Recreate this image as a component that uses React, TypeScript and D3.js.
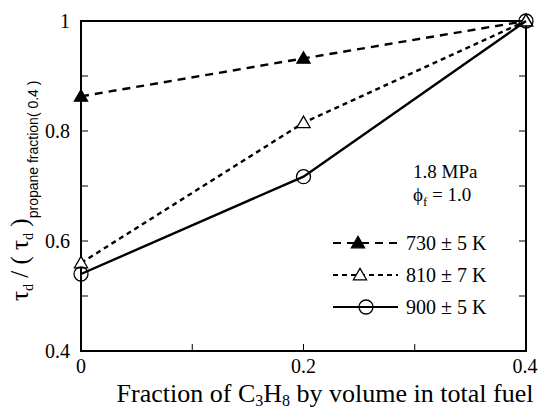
import React, { useEffect, useRef } from 'react'
import * as d3 from 'd3'

const fractions = [0, 0.2, 0.4]
const series730 = [0.863, 0.932, 1.0]
const series810 = [0.56, 0.815, 1.0]
const series900 = [0.54, 0.717, 1.0]
const seriesLabels = ['730 \u00b1 5 K', '810 \u00b1 7 K', '900 \u00b1 5 K']
const xTicks = [0, 0.2, 0.4]
const yTicks = [0.4, 0.6, 0.8, 1]

export default function App() {
  const svgRef = useRef<SVGSVGElement | null>(null)

  useEffect(() => {
    const svg = d3.select(svgRef.current)
    svg.selectAll('*').remove()

    const left = 81
    const right = 526
    const top = 21
    const bottom = 351
    const font = '"Liberation Serif", "Times New Roman", serif'

    const x = d3.scaleLinear().domain([0, 0.4]).range([left, right])
    const y = d3.scaleLinear().domain([0.4, 1]).range([bottom, top])

    const g = svg.append('g')

    // frame
    g.append('rect')
      .attr('x', left)
      .attr('y', top)
      .attr('width', right - left)
      .attr('height', bottom - top)
      .attr('fill', 'none')
      .attr('stroke', '#000')
      .attr('stroke-width', 2)

    // inward ticks
    const yMinor = d3.range(0.4, 1.0001, 0.1)
    yMinor.forEach((v) => {
      g.append('line')
        .attr('x1', left).attr('x2', left + 7)
        .attr('y1', y(v)).attr('y2', y(v))
        .attr('stroke', '#000').attr('stroke-width', 1)
      g.append('line')
        .attr('x1', right).attr('x2', right - 7)
        .attr('y1', y(v)).attr('y2', y(v))
        .attr('stroke', '#000').attr('stroke-width', 1)
    })
    const xMinor = d3.range(0, 0.40001, 0.1)
    xMinor.forEach((v) => {
      g.append('line')
        .attr('x1', x(v)).attr('x2', x(v))
        .attr('y1', bottom).attr('y2', bottom - 7)
        .attr('stroke', '#000').attr('stroke-width', 1)
    })

    // tick labels
    g.selectAll('.ylab')
      .data(yTicks)
      .enter()
      .append('text')
      .attr('x', left - 11)
      .attr('y', (d) => y(d) + 7)
      .attr('text-anchor', 'end')
      .attr('font-family', font)
      .attr('font-size', 20)
      .text((d) => (d === 1 ? '1' : d.toFixed(1)))

    g.selectAll('.xlab')
      .data(xTicks)
      .enter()
      .append('text')
      .attr('x', (d) => x(d) - (d === 0.4 ? 1 : 0))
      .attr('y', bottom + 22)
      .attr('text-anchor', 'middle')
      .attr('font-family', font)
      .attr('font-size', 20)
      .text((d) => (d === 0 ? '0' : d.toFixed(1)))

    // x title
    const xt = g.append('text')
      .attr('x', 325)
      .attr('y', 402)
      .attr('text-anchor', 'middle')
      .attr('font-family', font)
      .attr('font-size', 26)
    xt.append('tspan').text('Fraction of C')
    xt.append('tspan').attr('font-size', 16).attr('dy', 4).text('3')
    xt.append('tspan').attr('dy', -4).text('H')
    xt.append('tspan').attr('font-size', 16).attr('dy', 4).text('8')
    xt.append('tspan').attr('dy', -4).text(' by volume in total fuel')

    // y title
    const yt = g.append('text')
      .attr('transform', `translate(28,${301}) rotate(-90)`)
      .attr('font-family', font)
      .attr('font-size', 25)
    yt.append('tspan').text('\u03c4')
    yt.append('tspan').attr('font-size', 14).attr('dy', 5).text('d')
    yt.append('tspan').attr('dy', -5).text(' /  ( \u03c4')
    yt.append('tspan').attr('font-size', 14).attr('dy', 5).text('d')
    yt.append('tspan').attr('dy', -5).text(' )')
    yt.append('tspan')
      .attr('font-size', 14)
      .attr('dy', 10)
      .attr('font-family', '"Liberation Sans", Arial, sans-serif')
      .text('propane fraction( 0.4 )')

    const line = d3.line<number>()
      .x((_, i) => x(fractions[i]))
      .y((d) => y(d))

    const styles = [
      { data: series730, dash: '8,6', marker: 'filled' },
      { data: series810, dash: '5,4', marker: 'open' },
      { data: series900, dash: null, marker: 'circle' },
    ]

    const tri = d3.symbol().type(d3.symbolTriangle).size(75)
    const drawMarker = (px: number, py: number, kind: string) => {
      if (kind === 'circle') {
        g.append('circle')
          .attr('cx', px).attr('cy', py).attr('r', 7)
          .attr('fill', 'none').attr('stroke', '#000').attr('stroke-width', 1.3)
      } else {
        g.append('path')
          .attr('d', tri() as string)
          .attr('transform', `translate(${px},${py + 1})`)
          .attr('fill', kind === 'filled' ? '#000' : '#fff')
          .attr('stroke', '#000')
          .attr('stroke-width', 1.3)
      }
    }

    styles.forEach((s) => {
      g.append('path')
        .attr('d', line(s.data) as string)
        .attr('fill', 'none')
        .attr('stroke', '#000')
        .attr('stroke-width', 2.4)
        .attr('stroke-dasharray', s.dash)
      s.data.forEach((v, i) => drawMarker(x(fractions[i]), y(v), s.marker))
    })

    // annotation
    g.append('text')
      .attr('x', 413).attr('y', 178)
      .attr('font-family', font).attr('font-size', 19)
      .text('1.8 MPa')
    const phi = g.append('text')
      .attr('x', 413).attr('y', 201)
      .attr('font-family', font).attr('font-size', 19)
    phi.append('tspan').text('\u03d5')
    phi.append('tspan').attr('font-size', 13).attr('dy', 5).text('f')
    phi.append('tspan').attr('dy', -5).text(' = 1.0')

    // legend
    const legendY = [243, 275, 307]
    const markerX = [358, 360, 366]
    styles.forEach((s, i) => {
      const ly = legendY[i]
      g.append('line')
        .attr('x1', 333).attr('x2', 398)
        .attr('y1', ly).attr('y2', ly)
        .attr('stroke', '#000').attr('stroke-width', 2.2)
        .attr('stroke-dasharray', s.dash)
      drawMarker(markerX[i], ly, s.marker)
      g.append('text')
        .attr('x', 406).attr('y', ly + 7)
        .attr('font-family', font).attr('font-size', 20)
        .text(seriesLabels[i])
    })
  }, [])

  return (
    <svg
      ref={svgRef}
      width={538}
      height={411}
      style={{ position: 'absolute', left: 0, top: 0, overflow: 'visible' }}
    ></svg>
  )
}
